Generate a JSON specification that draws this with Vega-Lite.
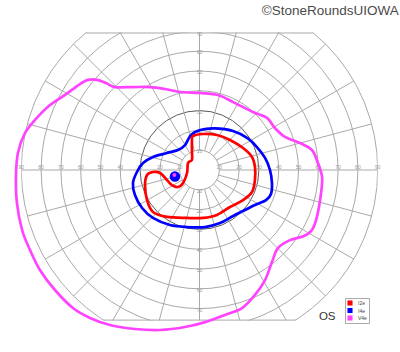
{
  "$schema": "https://vega.github.io/schema/vega-lite/v6.json",
  "width": 356.4,
  "height": 288.1,
  "autosize": {"type": "none"},
  "padding": {"left": 21.3, "top": 32.4, "right": 22.3, "bottom": 31.5},
  "title": {"text": "©StoneRoundsUIOWA", "anchor": "end", "frame": "group", "orient": "top", "dx": 21, "offset": 15, "fontSize": 13.5, "fontWeight": "normal", "color": "#4a4a4a", "font": "Liberation Sans"},
  "config": {"view": {"stroke": null}},
  "datasets": {
    "circles": [{"r": 10}, {"r": 20}, {"r": 30}, {"r": 40}, {"r": 50}, {"r": 60}, {"r": 70}, {"r": 80}, {"r": 90}],
    "spokes": [
      {"xa": 10, "ya": 0, "xb": 90, "yb": 0},
      {"xa": 9.66, "ya": 2.59, "xb": 86.93, "yb": 23.29},
      {"xa": 8.66, "ya": 5, "xb": 77.94, "yb": 45},
      {"xa": 7.07, "ya": 7.07, "xb": 63.64, "yb": 63.64},
      {"xa": 5, "ya": 8.66, "xb": 45, "yb": 77.94},
      {"xa": 2.59, "ya": 9.66, "xb": 23.29, "yb": 86.93},
      {"xa": 0, "ya": 10, "xb": 0, "yb": 90},
      {"xa": -2.59, "ya": 9.66, "xb": -23.29, "yb": 86.93},
      {"xa": -5, "ya": 8.66, "xb": -45, "yb": 77.94},
      {"xa": -7.07, "ya": 7.07, "xb": -63.64, "yb": 63.64},
      {"xa": -8.66, "ya": 5, "xb": -77.94, "yb": 45},
      {"xa": -9.66, "ya": 2.59, "xb": -86.93, "yb": 23.29},
      {"xa": -10, "ya": 0, "xb": -90, "yb": 0},
      {"xa": -9.66, "ya": -2.59, "xb": -86.93, "yb": -23.29},
      {"xa": -8.66, "ya": -5, "xb": -77.94, "yb": -45},
      {"xa": -7.07, "ya": -7.07, "xb": -63.64, "yb": -63.64},
      {"xa": -5, "ya": -8.66, "xb": -45, "yb": -77.94},
      {"xa": -2.59, "ya": -9.66, "xb": -23.29, "yb": -86.93},
      {"xa": 0, "ya": -10, "xb": 0, "yb": -90},
      {"xa": 2.59, "ya": -9.66, "xb": 23.29, "yb": -86.93},
      {"xa": 5, "ya": -8.66, "xb": 45, "yb": -77.94},
      {"xa": 7.07, "ya": -7.07, "xb": 63.64, "yb": -63.64},
      {"xa": 8.66, "ya": -5, "xb": 77.94, "yb": -45},
      {"xa": 9.66, "ya": -2.59, "xb": 86.93, "yb": -23.29}
    ],
    "edges": [
      {"xa": -57.5, "ya": 69.2, "xb": 57.5, "yb": 69.2},
      {"xa": -48.5, "ya": -75.8, "xb": 48.5, "yb": -75.8}
    ],
    "hlabels": [
      {"t": "10", "lx": 10}, {"t": "20", "lx": 20}, {"t": "30", "lx": 30}, {"t": "40", "lx": 40}, {"t": "50", "lx": 50}, {"t": "60", "lx": 60}, {"t": "70", "lx": 70}, {"t": "80", "lx": 80}, {"t": "90", "lx": 90},
      {"t": "10", "lx": -10}, {"t": "20", "lx": -20}, {"t": "30", "lx": -30}, {"t": "40", "lx": -40}, {"t": "50", "lx": -50}, {"t": "60", "lx": -60}, {"t": "70", "lx": -70}, {"t": "80", "lx": -80}, {"t": "90", "lx": -90}
    ],
    "vlabels": [
      {"t": "10", "ly": 10}, {"t": "20", "ly": 20}, {"t": "30", "ly": 30}, {"t": "40", "ly": 40}, {"t": "50", "ly": 50}, {"t": "60", "ly": 60}, {"t": "70", "ly": 69},
      {"t": "10", "ly": -10}, {"t": "20", "ly": -20}, {"t": "30", "ly": -30}, {"t": "40", "ly": -40}, {"t": "50", "ly": -50}, {"t": "60", "ly": -60}, {"t": "70", "ly": -70}
    ],
    "isopters": [
      {"stim": "V4e", "i": 1, "x": -92.7, "y": -3.5},
      {"stim": "V4e", "i": 2, "x": -91.7, "y": 8.6},
      {"stim": "V4e", "i": 3, "x": -88.1, "y": 18.7},
      {"stim": "V4e", "i": 4, "x": -82.6, "y": 25.8},
      {"stim": "V4e", "i": 5, "x": -75.5, "y": 32.8},
      {"stim": "V4e", "i": 6, "x": -67.9, "y": 37.9},
      {"stim": "V4e", "i": 7, "x": -60.4, "y": 43.4},
      {"stim": "V4e", "i": 8, "x": -56.3, "y": 45.5},
      {"stim": "V4e", "i": 9, "x": -51.8, "y": 45.5},
      {"stim": "V4e", "i": 10, "x": -47.2, "y": 43.9},
      {"stim": "V4e", "i": 11, "x": -42.7, "y": 41.9},
      {"stim": "V4e", "i": 12, "x": -33.6, "y": 41.9},
      {"stim": "V4e", "i": 13, "x": -25.0, "y": 41.9},
      {"stim": "V4e", "i": 14, "x": -17.4, "y": 40.9},
      {"stim": "V4e", "i": 15, "x": -9.8, "y": 39.4},
      {"stim": "V4e", "i": 16, "x": 0.3, "y": 38.9},
      {"stim": "V4e", "i": 17, "x": 9.3, "y": 37.9},
      {"stim": "V4e", "i": 18, "x": 17.0, "y": 34.3},
      {"stim": "V4e", "i": 19, "x": 27.0, "y": 29.3},
      {"stim": "V4e", "i": 20, "x": 34.1, "y": 26.3},
      {"stim": "V4e", "i": 21, "x": 38.1, "y": 21.2},
      {"stim": "V4e", "i": 22, "x": 43.2, "y": 16.7},
      {"stim": "V4e", "i": 23, "x": 50.8, "y": 13.6},
      {"stim": "V4e", "i": 24, "x": 56.8, "y": 10.1},
      {"stim": "V4e", "i": 25, "x": 59.8, "y": 3.5},
      {"stim": "V4e", "i": 26, "x": 61.9, "y": -3.5},
      {"stim": "V4e", "i": 27, "x": 61.4, "y": -11.6},
      {"stim": "V4e", "i": 28, "x": 59.3, "y": -23.7},
      {"stim": "V4e", "i": 29, "x": 56.8, "y": -30.3},
      {"stim": "V4e", "i": 30, "x": 52.8, "y": -33.3},
      {"stim": "V4e", "i": 31, "x": 45.7, "y": -35.4},
      {"stim": "V4e", "i": 32, "x": 39.6, "y": -39.4},
      {"stim": "V4e", "i": 33, "x": 36.6, "y": -46.5},
      {"stim": "V4e", "i": 34, "x": 33.1, "y": -55.6},
      {"stim": "V4e", "i": 35, "x": 28.0, "y": -63.1},
      {"stim": "V4e", "i": 36, "x": 21.5, "y": -69.7},
      {"stim": "V4e", "i": 37, "x": 12.9, "y": -73.2},
      {"stim": "V4e", "i": 38, "x": 2.8, "y": -76.8},
      {"stim": "V4e", "i": 39, "x": -7.3, "y": -79.3},
      {"stim": "V4e", "i": 40, "x": -19.9, "y": -80.8},
      {"stim": "V4e", "i": 41, "x": -32.6, "y": -80.3},
      {"stim": "V4e", "i": 42, "x": -45.2, "y": -78.3},
      {"stim": "V4e", "i": 43, "x": -55.3, "y": -74.7},
      {"stim": "V4e", "i": 44, "x": -63.9, "y": -69.7},
      {"stim": "V4e", "i": 45, "x": -73.0, "y": -60.6},
      {"stim": "V4e", "i": 46, "x": -80.6, "y": -50.5},
      {"stim": "V4e", "i": 47, "x": -85.6, "y": -40.4},
      {"stim": "V4e", "i": 48, "x": -89.6, "y": -30.3},
      {"stim": "V4e", "i": 49, "x": -92.2, "y": -16.7},
      {"stim": "I4e", "i": 1, "x": -7.3, "y": 12.6},
      {"stim": "I4e", "i": 2, "x": -4.3, "y": 17.7},
      {"stim": "I4e", "i": 3, "x": 0.3, "y": 20.2},
      {"stim": "I4e", "i": 4, "x": 7.8, "y": 21.0},
      {"stim": "I4e", "i": 5, "x": 16.9, "y": 19.7},
      {"stim": "I4e", "i": 6, "x": 24.0, "y": 16.2},
      {"stim": "I4e", "i": 7, "x": 29.0, "y": 11.6},
      {"stim": "I4e", "i": 8, "x": 33.1, "y": 6.1},
      {"stim": "I4e", "i": 9, "x": 35.6, "y": 0},
      {"stim": "I4e", "i": 10, "x": 36.6, "y": -6.6},
      {"stim": "I4e", "i": 11, "x": 36.1, "y": -12.1},
      {"stim": "I4e", "i": 12, "x": 33.6, "y": -15.2},
      {"stim": "I4e", "i": 13, "x": 28.0, "y": -17.7},
      {"stim": "I4e", "i": 14, "x": 23.0, "y": -20.2},
      {"stim": "I4e", "i": 15, "x": 17.0, "y": -23.2},
      {"stim": "I4e", "i": 16, "x": 10.4, "y": -26.8},
      {"stim": "I4e", "i": 17, "x": 2.8, "y": -28.8},
      {"stim": "I4e", "i": 18, "x": -6.3, "y": -28.8},
      {"stim": "I4e", "i": 19, "x": -14.9, "y": -27.8},
      {"stim": "I4e", "i": 20, "x": -23.5, "y": -24.2},
      {"stim": "I4e", "i": 21, "x": -29.0, "y": -19.2},
      {"stim": "I4e", "i": 22, "x": -32.6, "y": -12.6},
      {"stim": "I4e", "i": 23, "x": -33.6, "y": -6.6},
      {"stim": "I4e", "i": 24, "x": -31.6, "y": -1.0},
      {"stim": "I4e", "i": 25, "x": -28.5, "y": 3.5},
      {"stim": "I4e", "i": 26, "x": -23.5, "y": 6.6},
      {"stim": "I4e", "i": 27, "x": -16.4, "y": 8.6},
      {"stim": "I4e", "i": 28, "x": -10.9, "y": 10.1},
      {"stim": "I2e", "i": 1, "x": -3.3, "y": 17.2},
      {"stim": "I2e", "i": 2, "x": 1.8, "y": 18.2},
      {"stim": "I2e", "i": 3, "x": 8.8, "y": 17.7},
      {"stim": "I2e", "i": 4, "x": 15.4, "y": 15.2},
      {"stim": "I2e", "i": 5, "x": 22.0, "y": 11.1},
      {"stim": "I2e", "i": 6, "x": 26.5, "y": 6.6},
      {"stim": "I2e", "i": 7, "x": 28.0, "y": 1.5},
      {"stim": "I2e", "i": 8, "x": 28.0, "y": -5.1},
      {"stim": "I2e", "i": 9, "x": 26.5, "y": -11.1},
      {"stim": "I2e", "i": 10, "x": 22.0, "y": -15.2},
      {"stim": "I2e", "i": 11, "x": 15.4, "y": -18.7},
      {"stim": "I2e", "i": 12, "x": 8.8, "y": -22.7},
      {"stim": "I2e", "i": 13, "x": 1.8, "y": -24.2},
      {"stim": "I2e", "i": 14, "x": -6.3, "y": -24.2},
      {"stim": "I2e", "i": 15, "x": -16.4, "y": -23.7},
      {"stim": "I2e", "i": 16, "x": -23.5, "y": -21.2},
      {"stim": "I2e", "i": 17, "x": -26.5, "y": -15.2},
      {"stim": "I2e", "i": 18, "x": -27.5, "y": -7.6},
      {"stim": "I2e", "i": 19, "x": -26.5, "y": -2.5},
      {"stim": "I2e", "i": 20, "x": -23.5, "y": -1.0},
      {"stim": "I2e", "i": 21, "x": -19.9, "y": -1.5},
      {"stim": "I2e", "i": 22, "x": -16.4, "y": -5.1},
      {"stim": "I2e", "i": 23, "x": -13.9, "y": -7.6},
      {"stim": "I2e", "i": 24, "x": -10.9, "y": -8.6},
      {"stim": "I2e", "i": 25, "x": -8.3, "y": -6.6},
      {"stim": "I2e", "i": 26, "x": -6.3, "y": -1.5},
      {"stim": "I2e", "i": 27, "x": -5.8, "y": 3.5},
      {"stim": "I2e", "i": 28, "x": -3.8, "y": 5.1},
      {"stim": "I2e", "i": 29, "x": -3.8, "y": 9.1},
      {"stim": "I2e", "i": 30, "x": -3.8, "y": 15.2}
    ],
    "blindspot": [{"stim": "I4e", "x": -12.4, "y": -3.3}],
    "blindcore": [{"stim": "V4e", "x": -12.7, "y": -2.5}],
    "eye": [{"t": "OS", "x": 64.5, "y": -74.2}]
  },
  "layer": [
    {
      "data": {"name": "circles"},
      "mark": {"type": "point", "shape": "circle", "filled": false, "clip": true, "strokeWidth": 1, "opacity": 1},
      "encoding": {
        "x": {"datum": 0, "type": "quantitative", "scale": {"domain": [-90, 90], "nice": false, "zero": false}, "axis": null},
        "y": {"datum": 0, "type": "quantitative", "scale": {"domain": [-76, 69.5], "nice": false, "zero": false}, "axis": null},
        "size": {"field": "r", "type": "quantitative", "scale": {"type": "pow", "exponent": 2, "domain": [0, 90], "range": [0, 127021]}, "legend": null},
        "stroke": {"condition": {"test": "datum.r == 30", "value": "#5a5a5a"}, "value": "#a9a9a9"}
      }
    },
    {
      "data": {"name": "spokes"},
      "mark": {"type": "rule", "clip": true, "color": "#a9a9a9", "strokeWidth": 1},
      "encoding": {
        "x": {"field": "xa", "type": "quantitative", "scale": {"domain": [-90, 90], "nice": false, "zero": false}, "axis": null},
        "y": {"field": "ya", "type": "quantitative", "scale": {"domain": [-76, 69.5], "nice": false, "zero": false}, "axis": null},
        "x2": {"field": "xb"},
        "y2": {"field": "yb"}
      }
    },
    {
      "data": {"name": "edges"},
      "mark": {"type": "rule", "color": "#a9a9a9", "strokeWidth": 1},
      "encoding": {
        "x": {"field": "xa", "type": "quantitative", "axis": null},
        "y": {"field": "ya", "type": "quantitative", "axis": null},
        "x2": {"field": "xb"},
        "y2": {"field": "yb"}
      }
    },
    {
      "data": {"name": "hlabels"},
      "mark": {"type": "text", "fontSize": 5, "color": "#999999", "baseline": "bottom", "dy": 0, "font": "Liberation Sans"},
      "encoding": {
        "x": {"field": "lx", "type": "quantitative", "axis": null},
        "y": {"datum": 0, "type": "quantitative", "axis": null},
        "text": {"field": "t"}
      }
    },
    {
      "data": {"name": "vlabels"},
      "mark": {"type": "text", "fontSize": 5, "color": "#999999", "baseline": "middle", "dy": 1, "font": "Liberation Sans"},
      "encoding": {
        "x": {"datum": 0, "type": "quantitative", "axis": null},
        "y": {"field": "ly", "type": "quantitative", "axis": null},
        "text": {"field": "t"}
      }
    },
    {
      "data": {"name": "isopters"},
      "mark": {"type": "line", "interpolate": "cardinal-closed", "strokeWidth": 2.7},
      "encoding": {
        "x": {"field": "x", "type": "quantitative", "axis": null},
        "y": {"field": "y", "type": "quantitative", "axis": null},
        "order": {"field": "i"},
        "detail": {"field": "stim"},
        "color": {"field": "stim", "type": "nominal",
          "scale": {"domain": ["I2e", "I4e", "V4e"], "range": ["#ff0000", "#0000ff", "#ff44ff"]},
          "legend": {"title": null, "orient": "none", "legendX": 323.7, "legendY": 265.6, "symbolType": "square", "symbolSize": 26, "symbolStrokeWidth": 0, "labelFontSize": 5, "labelColor": "#444", "labelFont": "Liberation Sans", "rowPadding": 1.5, "labelOffset": 5, "padding": 2, "strokeColor": "#aaaaaa", "fillColor": "#ffffff",
            "encode": {"symbols": {"update": {"fill": {"scale": "color", "field": "value"}, "fillOpacity": {"value": 1}, "strokeWidth": {"value": 0}}}}}
        }
      }
    },
    {
      "data": {"name": "blindspot"},
      "mark": {"type": "point", "shape": "circle", "filled": true, "size": 110, "opacity": 1, "color": "#0000ff"},
      "encoding": {
        "x": {"field": "x", "type": "quantitative", "axis": null},
        "y": {"field": "y", "type": "quantitative", "axis": null}
      }
    },
    {
      "data": {"name": "blindcore"},
      "mark": {"type": "point", "shape": "circle", "filled": true, "size": 16, "opacity": 1, "color": "#ff44ff"},
      "encoding": {
        "x": {"field": "x", "type": "quantitative", "axis": null},
        "y": {"field": "y", "type": "quantitative", "axis": null}
      }
    },
    {
      "data": {"name": "eye"},
      "mark": {"type": "text", "fontSize": 11.5, "color": "#333333", "align": "center", "baseline": "middle", "font": "Liberation Sans"},
      "encoding": {
        "x": {"field": "x", "type": "quantitative", "axis": null},
        "y": {"field": "y", "type": "quantitative", "axis": null},
        "text": {"field": "t"}
      }
    }
  ]
}
